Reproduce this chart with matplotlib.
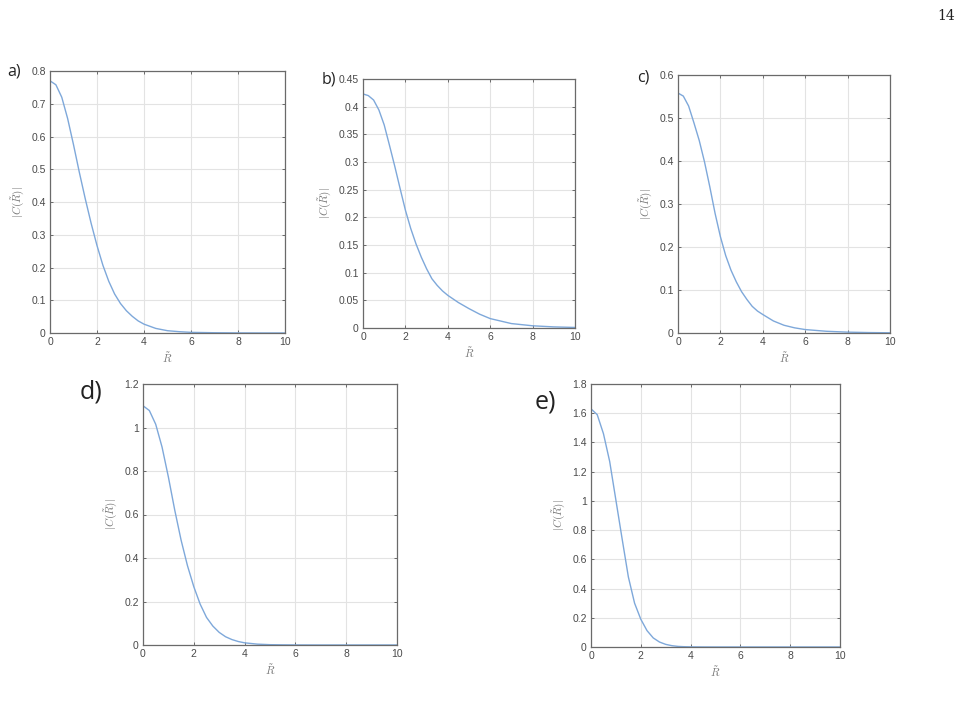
import matplotlib
matplotlib.use("Agg")
import matplotlib.pyplot as plt
from matplotlib.ticker import FuncFormatter

plt.rcParams['mathtext.fontset'] = 'cm'
plt.rcParams['font.family'] = ['Liberation Sans', 'DejaVu Sans']

# Data
r_vals = [0, 0.25, 0.5, 0.75, 1, 1.25, 1.5, 1.75, 2, 2.25, 2.5, 2.75, 3,
          3.25, 3.5, 3.75, 4, 4.5, 5, 5.5, 6, 7, 8, 9, 10]

c_a = [0.770, 0.758, 0.720, 0.655, 0.575, 0.490, 0.410, 0.335, 0.267, 0.207,
       0.158, 0.119, 0.090, 0.068, 0.051, 0.037, 0.027, 0.014, 0.007, 0.004,
       0.002, 0.0008, 0.0003, 0.0001, 0.0001]
c_b = [0.423, 0.420, 0.412, 0.394, 0.367, 0.330, 0.292, 0.252, 0.213, 0.180,
       0.152, 0.128, 0.107, 0.089, 0.077, 0.067, 0.059, 0.046, 0.035, 0.025,
       0.017, 0.008, 0.004, 0.002, 0.001]
c_c = [0.558, 0.551, 0.528, 0.489, 0.448, 0.398, 0.340, 0.278, 0.224, 0.180,
       0.146, 0.119, 0.096, 0.078, 0.062, 0.051, 0.043, 0.028, 0.018, 0.012,
       0.008, 0.004, 0.002, 0.001, 0.0005]
c_d = [1.100, 1.078, 1.015, 0.910, 0.772, 0.620, 0.482, 0.365, 0.268, 0.188,
       0.127, 0.087, 0.058, 0.038, 0.025, 0.016, 0.010, 0.004, 0.0015, 0.0007,
       0.0003, 0.0001, 0.0001, 0.0001, 0.0001]
c_e = [1.630, 1.590, 1.460, 1.270, 1.005, 0.740, 0.480, 0.300, 0.190, 0.112,
       0.062, 0.034, 0.018, 0.009, 0.004, 0.002, 0.001, 0.0003, 0.0001, 0.0001,
       0.0001, 0.0001, 0.0001, 0.0001, 0.0001]

panel_labels = ['a)', 'b)', 'c)', 'd)', 'e)']
y_maxes = [0.8, 0.45, 0.6, 1.2, 1.8]
y_steps = [0.1, 0.05, 0.1, 0.2, 0.2]
x_ticks = [0, 2, 4, 6, 8, 10]
series = [c_a, c_b, c_c, c_d, c_e]

W, H = 972, 714
fig = plt.figure(figsize=(W / 100, H / 100), dpi=100)

# pixel boxes: left, top, right, bottom
boxes = [(50, 71, 285, 333), (363, 79, 575, 328), (678, 75, 890, 333),
         (143, 384, 397, 645), (591, 384, 840, 647)]
label_pos = [(7, 72, 11.5), (322, 80, 11.5), (637, 77, 11.5), (80, 392, 18), (535, 402, 18)]

line_color = '#7ea8da'
text_gray = '#4a4a4a'

for i in range(5):
    l, t, r, b = boxes[i]
    ax = fig.add_axes([l / W, 1 - b / H, (r - l) / W, (b - t) / H])
    ax.plot(r_vals, series[i], color=line_color, lw=1.0)
    ax.set_xlim(0, 10)
    ax.set_ylim(0, y_maxes[i])
    ax.set_xticks(x_ticks)
    n = int(round(y_maxes[i] / y_steps[i]))
    ax.set_yticks([round(k * y_steps[i], 3) for k in range(n + 1)])
    ax.yaxis.set_major_formatter(FuncFormatter(lambda v, p: '%g' % round(v, 3)))
    ax.xaxis.set_major_formatter(FuncFormatter(lambda v, p: '%g' % v))
    ax.grid(True, color='#e3e3e3', lw=0.8)
    ax.set_axisbelow(True)
    ax.tick_params(direction='in', length=2.5, width=0.6, labelsize=7.5,
                   colors='#555555', labelcolor=text_gray, top=True, right=True,
                   pad=3)
    for s in ax.spines.values():
        s.set_color('#6a6a6a')
        s.set_linewidth(0.9)
    ax.set_xlabel(r'$\tilde{R}$', fontsize=8, color='#777777', labelpad=2)
    ax.set_ylabel(r'$|C(\tilde{R})|$', fontsize=8, color='#777777', labelpad=3)
    lx, ly, fs = label_pos[i]
    fig.text(lx / W, 1 - ly / H, panel_labels[i], fontsize=fs, color='#222222',
             ha='left', va='center', family=['Open Sans', 'DejaVu Sans'])

fig.text(955 / W, 1 - 16 / H, '14', fontsize=10, family='DejaVu Serif',
         ha='right', va='center', color='#222222')

fig.savefig('out.png', dpi=100, facecolor='white')
